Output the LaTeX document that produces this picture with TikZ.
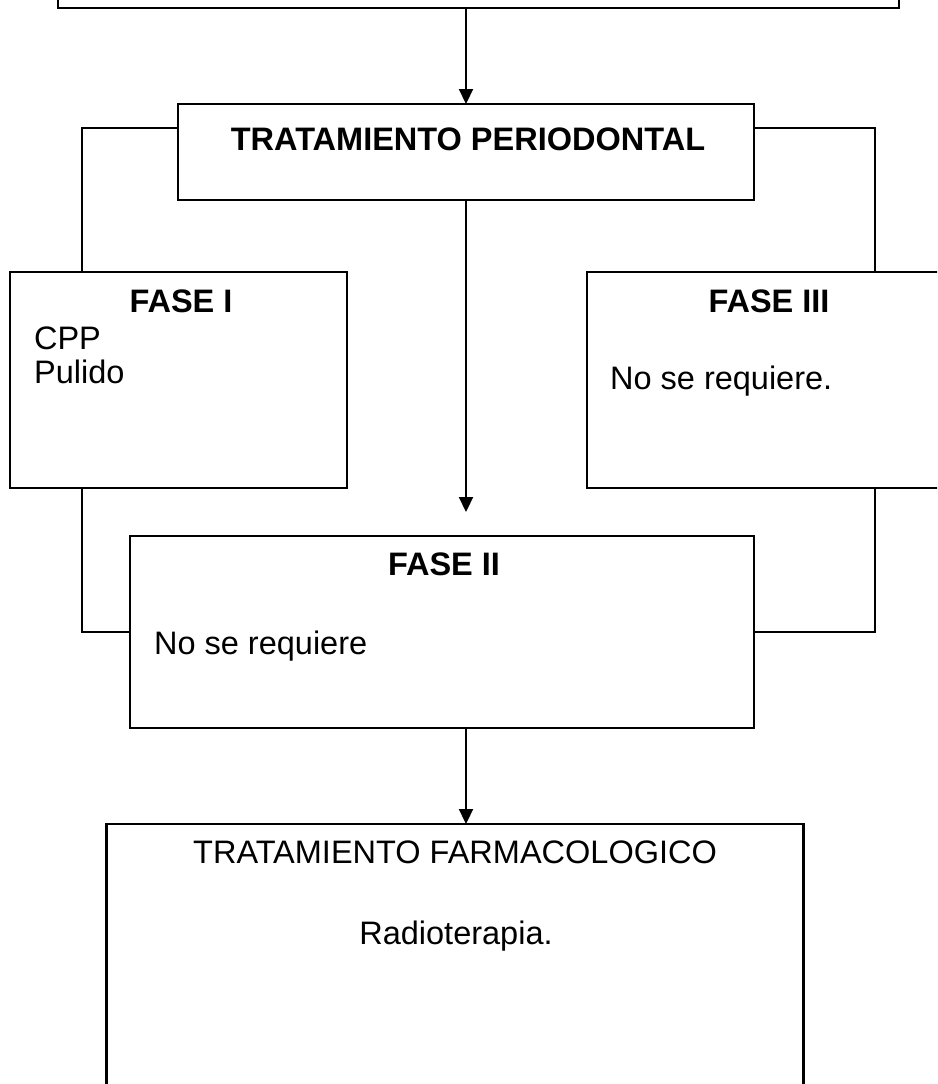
\documentclass[tikz,border=0pt]{standalone}
\usepackage{fontspec}
\setmainfont{Liberation Sans}
\usetikzlibrary{arrows.meta}

\begin{document}
\begin{tikzpicture}[x=1pt,y=-1pt,>={Triangle[length=15pt,width=14pt]},line width=2.2pt,
box/.style={draw,inner sep=0pt,outer sep=0pt},
head/.style={anchor=base,inner sep=0pt,font=\fontsize{32.5}{34}\selectfont\bfseries},
body/.style={anchor=base west,inner sep=0pt,font=\fontsize{32.5}{34}\selectfont},
mid/.style={anchor=base,inner sep=0pt,font=\fontsize{32.5}{34}\selectfont}]
\useasboundingbox (0,0) rectangle (937,1084);
\clip (0,0) rectangle (937,1084);
% boxes
\node[box,minimum width=841pt,minimum height=120pt] (top) at (478.5,-52) {};
\node[box,minimum width=576pt,minimum height=96pt] (tp) at (466,152) {};
\node[box,minimum width=337pt,minimum height=216pt] (f1) at (178.5,380) {};
\node[box,minimum width=364pt,minimum height=216pt] (f3) at (769,380) {};
\node[box,minimum width=624pt,minimum height=192pt] (f2) at (442,632) {};
\node[box,minimum width=697pt,minimum height=320pt] (farm) at (455,984) {};
% texts
\node[head] (tpT) at (468,150) {TRATAMIENTO PERIODONTAL};
\node[head] (f1T) at (181,312) {FASE I};
\node[body] (f1a) at (33,349) {CPP};
\node[body] (f1b) at (33,383) {Pulido};
\node[head] (f3T) at (769,312) {FASE III};
\node[body] (f3a) at (609,389) {No se requiere.};
\node[head] (f2T) at (444,575) {FASE II};
\node[body] (f2a) at (153,654) {No se requiere};
\node[mid] (farmT) at (455,863) {TRATAMIENTO FARMACOLOGICO};
\node[mid] (farmA) at (456,944) {Radioterapia.};
% connectors
\coordinate (f2in) at (466,512);
\draw[->] (tp.north |- top.south) -- (tp.north);
\draw[->] (tp.south) -- (f2in);
\draw ([yshift=24pt]tp.west) -| ([xshift=72pt]f1.north west);
\draw ([yshift=24pt]tp.east) -| ([xshift=288pt]f3.north west);
\draw ([xshift=72pt]f1.south west) |- (f2.west);
\draw ([xshift=288pt]f3.south west) |- (f2.east);
\draw[->] (f2.south -| tp.south) -- (farm.north -| tp.south);
\end{tikzpicture}
\end{document}
